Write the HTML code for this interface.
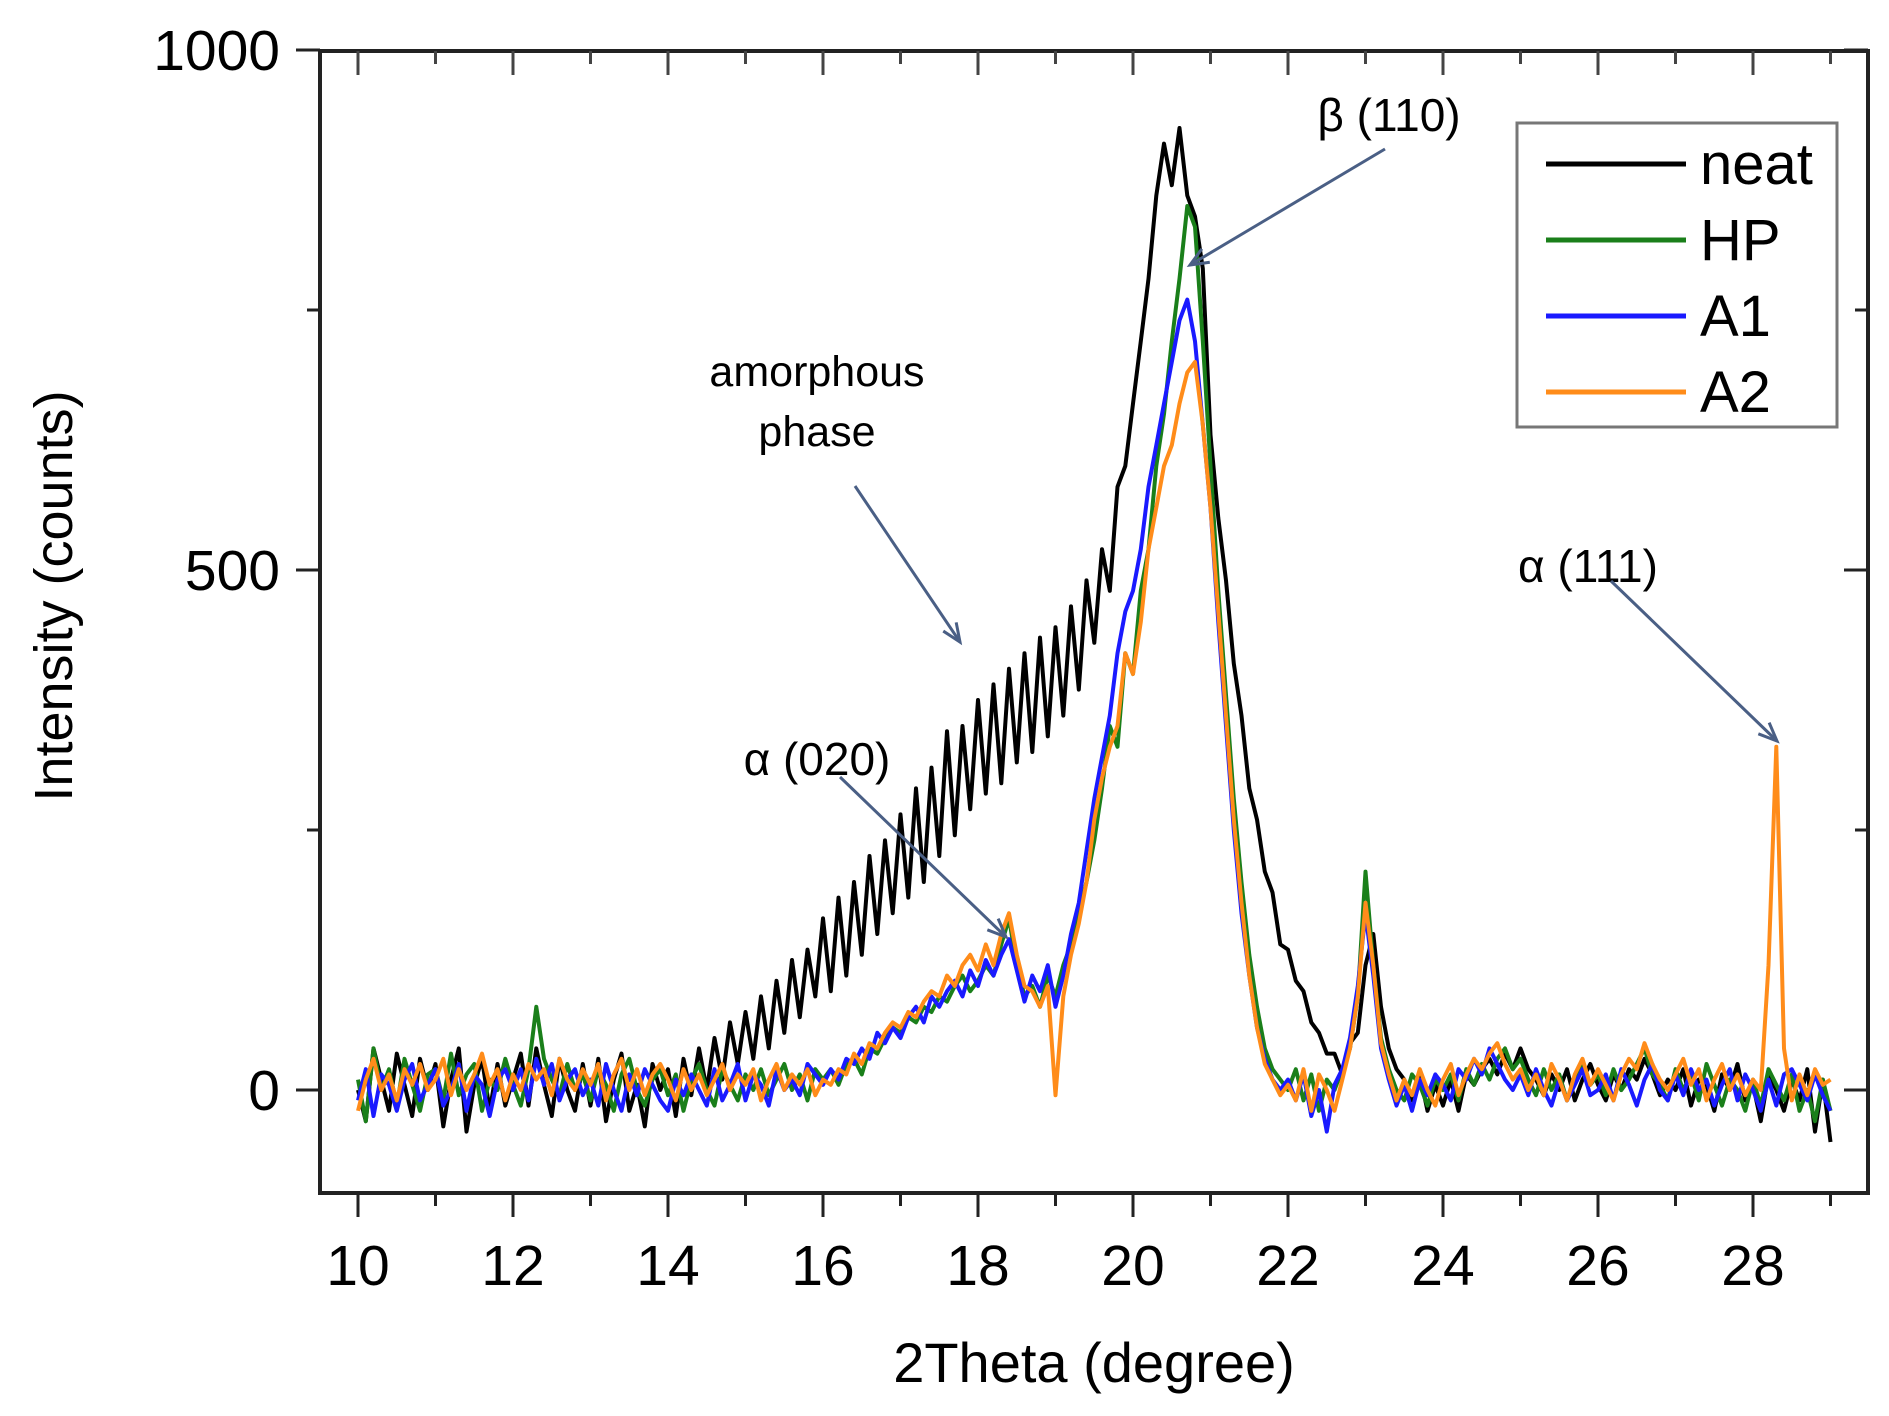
<!DOCTYPE html>
<html><head><meta charset="utf-8"><style>
html,body{margin:0;padding:0;background:#fff;}
svg{display:block;font-family:"Liberation Sans",sans-serif;}
</style></head><body>
<svg id="chart" width="1889" height="1416" viewBox="0 0 1889 1416">
<rect x="0" y="0" width="1889" height="1416" fill="#fff"/>
<g id="series"></g>
<g id="axes"></g>
<g id="annot">
<text x="1389" y="131" font-size="46" text-anchor="middle">β (110)</text>
<text x="817" y="386" font-size="43" text-anchor="middle">amorphous</text>
<text x="817" y="446" font-size="43" text-anchor="middle">phase</text>
<text x="817" y="775" font-size="46" text-anchor="middle">α (020)</text>
<text x="1588" y="582" font-size="46" text-anchor="middle">α (111)</text>
</g>
<g id="legend">
<rect x="1517" y="123" width="320" height="304" fill="#fff" stroke="#777" stroke-width="3"/>
</g>
<text x="1094" y="1382" font-size="56" text-anchor="middle">2Theta (degree)</text>
<text transform="translate(72,596) rotate(-90)" font-size="54" text-anchor="middle">Intensity (counts)</text>
</svg>
<script>
const xStart = 10, xStep = 0.1;
const seriesNames = ["neat","HP","A1","A2"];
const seriesColors = ["#000000","#1a7f1a","#1a1aff","#ff8c1a"];
const neatValues = [
0,-30,40,10,-20,35,5,-25,30,0,
25,-35,10,40,-40,5,30,-20,25,-15,
10,35,-15,40,5,-25,30,0,-20,25,
-15,30,-30,10,35,-20,5,-35,25,0,
20,-25,30,-5,40,0,50,10,65,25,
75,30,90,40,105,55,125,70,135,90,
165,95,185,110,200,130,225,150,240,170,
265,185,290,200,310,225,345,245,350,270,
375,285,390,295,405,315,420,325,435,340,
445,360,465,385,490,430,520,480,580,600,
660,720,780,860,910,870,925,860,840,790,
630,550,490,410,360,290,260,210,190,140,
135,105,95,65,55,35,35,15,45,55,
120,150,80,40,20,10,-10,15,-20,5,
-15,10,-20,15,5,20,30,15,35,20,
40,20,10,-5,15,0,20,-10,10,25,
5,-10,15,0,20,10,30,15,-5,10,
0,20,-15,10,5,-20,15,0,25,-10,
5,-30,15,0,-20,10,-10,20,-40,10,
-50];
const hpValues = [
10,-30,40,0,20,-15,30,5,-20,15,
20,-10,35,-5,15,25,-20,10,0,30,
5,-15,20,80,30,10,-5,25,0,15,
-10,20,5,-20,15,30,0,-15,10,20,
-5,15,-20,10,25,0,-15,20,5,-10,
15,0,20,-5,10,25,0,15,-10,20,
10,20,5,25,30,15,40,35,50,60,
55,70,65,80,75,90,85,100,110,95,
105,120,110,140,165,120,90,100,80,110,
90,120,140,170,200,240,290,350,330,420,
400,480,520,600,650,720,780,850,830,720,
600,480,380,280,200,130,80,40,20,10,
0,20,-10,15,-20,10,0,20,40,90,
210,120,50,20,0,-10,15,5,-15,10,
0,15,-10,20,5,25,10,30,40,20,
30,10,-5,20,0,15,-10,10,25,5,
15,-5,20,0,10,25,40,15,5,-10,
20,0,15,-10,25,5,-15,10,0,-20,
10,-15,20,5,-10,15,-20,0,-30,10,
-20];
const a1Values = [
-10,20,-25,15,5,-20,10,25,-10,5,
20,-15,0,25,-20,15,5,-25,10,20,
0,20,-10,30,5,25,-10,10,20,-5,
10,-15,25,0,-20,15,-5,20,5,-10,
-20,10,-5,15,0,-15,20,-10,5,25,
-10,15,5,-15,20,0,10,-5,25,15,
5,20,10,30,25,40,30,55,45,60,
50,70,80,65,90,80,95,105,90,115,
100,125,110,130,145,115,85,110,95,120,
80,110,150,180,230,280,320,360,420,460,
480,520,580,620,660,700,740,760,720,640,
560,450,350,250,170,110,60,30,10,0,
10,-10,15,-25,0,-40,5,20,50,100,
170,110,40,10,-15,5,-20,10,-5,15,
5,-10,20,10,30,15,40,25,10,0,
15,-5,20,0,-15,10,-10,5,20,-5,
0,15,-10,20,5,-15,10,25,0,-10,
15,-5,20,0,10,-15,5,20,-10,15,
0,-20,10,-15,15,20,5,-10,15,-5,
-20];
const a2Values = [
-20,10,30,0,15,-10,20,5,25,0,
10,30,-5,20,0,15,35,5,20,-10,
15,0,25,10,20,-5,30,10,0,20,
5,25,-10,15,30,0,20,-5,15,25,
10,-10,20,0,15,-5,10,25,0,15,
5,20,-10,10,25,0,15,5,20,-5,
10,5,20,15,35,25,45,40,55,65,
60,75,70,85,95,90,110,100,120,130,
115,140,120,150,170,130,100,95,80,100,
-5,90,130,160,200,260,300,330,350,420,
400,450,520,560,600,620,660,690,700,640,
560,460,360,260,180,110,60,25,10,-5,
5,-10,20,-20,15,0,-20,10,40,90,
180,120,45,15,-10,10,-5,20,0,-15,
10,25,-5,15,30,20,35,45,25,10,
20,0,15,-5,25,10,-10,15,30,5,
20,5,-10,15,30,20,45,25,10,0,
15,30,5,20,-10,10,25,0,15,-5,
10,0,120,330,40,-10,15,-5,20,5,
10];
const xTickLabels = ["10","12","14","16","18","20","22","24","26","28"];
const yTickLabels = ["0","500","1000"];

const NS = "http://www.w3.org/2000/svg";
const X0 = 358, XPX = 77.5;
const Y0 = 1090, YPX = 1.04;
const plotL = 320, plotR = 1868, plotT = 51, plotB = 1193;
function xs(v){ return X0 + (v - 10) * XPX; }
function ys(v){ return Y0 - v * YPX; }
function mk(tag, attrs, parent){
  const e = document.createElementNS(NS, tag);
  for (const k in attrs) e.setAttribute(k, attrs[k]);
  parent.appendChild(e);
  return e;
}
const sg = document.getElementById("series");
const allSeries = [neatValues, hpValues, a1Values, a2Values];
allSeries.forEach((vals, si) => {
  let d = "";
  vals.forEach((v, i) => {
    const x = xs(xStart + i * xStep);
    d += (i ? "L" : "M") + x.toFixed(1) + "," + ys(v).toFixed(1);
  });
  const p = mk("path", {d: d, fill: "none", stroke: seriesColors[si], "stroke-width": 4, "stroke-linejoin": "round"}, sg);
  
  
});

const ag = document.getElementById("axes");
const frame = mk("rect", {x: plotL, y: plotT, width: plotR - plotL, height: plotB - plotT, fill: "none", stroke: "#222", "stroke-width": 4}, ag);


for (let v = 10; v <= 29; v++) {
  const major = v % 2 === 0;
  const x = xs(v);
  const t = mk("line", {x1: x, y1: plotB, x2: x, y2: plotB + (major ? 24 : 13), stroke: "#222", "stroke-width": 3}, ag);
  
  
  const t2 = mk("line", {x1: x, y1: plotT, x2: x, y2: plotT + (major ? 24 : 13), stroke: "#444", "stroke-width": 3}, ag);
  
  
}
xTickLabels.forEach(lbl => {
  const tx = mk("text", {x: xs(+lbl), y: 1285, "font-size": 57, "text-anchor": "middle"}, ag);
  tx.textContent = lbl;
  
  
});
for (let v = 0; v <= 1000; v += 250) {
  const major = v % 500 === 0;
  const y = ys(v);
  const t = mk("line", {x1: plotL - (major ? 24 : 13), y1: y, x2: plotL, y2: y, stroke: "#222", "stroke-width": 3}, ag);
  
  
  const t2 = mk("line", {x1: plotR - (major ? 24 : 13), y1: y, x2: plotR, y2: y, stroke: "#222", "stroke-width": 3}, ag);
  
  
}
yTickLabels.forEach(lbl => {
  const tx = mk("text", {x: 280, y: ys(+lbl) + 20, "font-size": 57, "text-anchor": "end"}, ag);
  tx.textContent = lbl;
  
  
});

const an = document.getElementById("annot");
const arrowSegs = [[855,486,960,642],[1385,149,1190,265],[840,777,1006,937],[1611,581,1777,741]];
arrowSegs.forEach(a => {
  const [x1,y1,x2,y2] = a;
  const ang = Math.atan2(y2-y1, x2-x1), L = 20, w = 0.4;
  const g = mk("g", {stroke: "#4a5f85", "stroke-width": 3, fill: "none"}, an);
  
  
  mk("line", {x1, y1, x2, y2}, g);
  mk("polyline", {points: (x2 - L*Math.cos(ang-w)) + "," + (y2 - L*Math.sin(ang-w)) + " " + x2 + "," + y2 + " " + (x2 - L*Math.cos(ang+w)) + "," + (y2 - L*Math.sin(ang+w))}, g);
});

const lg = document.getElementById("legend");
seriesNames.forEach((n, i) => {
  const y = 164 + i * 76;
  const ln = mk("line", {x1: 1546, y1: y, x2: 1686, y2: y, stroke: seriesColors[i], "stroke-width": 5}, lg);
  
  
  const tx = mk("text", {x: 1700, y: y + 20, "font-size": 58}, lg);
  tx.textContent = n;
  
  
});
</script>
</body></html>
